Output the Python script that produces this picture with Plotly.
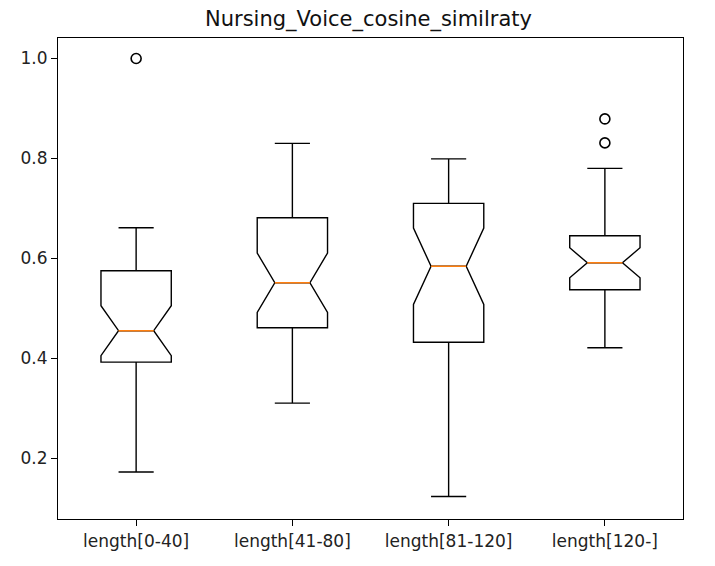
import plotly.graph_objects as go

categories = ["length[0-40]", "length[41-80]", "length[81-120]", "length[120-]"]
q1 = [0.392, 0.461, 0.432, 0.537]
median = [0.455, 0.551, 0.584, 0.591]
q3 = [0.575, 0.681, 0.710, 0.645]
lower_whisker = [0.172, 0.310, 0.123, 0.421]
upper_whisker = [0.661, 0.830, 0.799, 0.780]
notch_low = [0.406, 0.491, 0.510, 0.561]
notch_high = [0.506, 0.610, 0.663, 0.621]
outlier_group = [0, 3, 3]
outlier_values = [1.0, 0.831, 0.879]

positions = [i + 1 for i in range(len(categories))]
box_width = 0.45
notchspan = [(h - l) / 2 for h, l in zip(notch_high, notch_low)]

fig = go.Figure()
fig.add_trace(go.Box(
    x=positions, q1=q1, median=median, q3=q3,
    lowerfence=lower_whisker, upperfence=upper_whisker,
    notched=True, notchspan=notchspan, notchwidth=0.25,
    width=box_width, whiskerwidth=0.5,
    line=dict(color="black", width=1.4),
    fillcolor="rgba(0,0,0,0)", boxpoints=False, showlegend=False,
))

# median lines (orange)
for p, m in zip(positions, median):
    fig.add_trace(go.Scatter(
        x=[p - box_width / 4, p + box_width / 4], y=[m, m], mode="lines",
        line=dict(color="#ff7f0e", width=1.6), showlegend=False, hoverinfo="skip",
    ))

fig.add_trace(go.Scatter(
    x=[positions[g] for g in outlier_group], y=outlier_values, mode="markers",
    marker=dict(symbol="circle-open", size=10, color="black", line=dict(width=1.6, color="black")),
    showlegend=False,
))

axis_common = dict(
    showline=True, linecolor="black", linewidth=1.2, mirror=True,
    ticks="outside", ticklen=6, tickwidth=1.2, tickcolor="black",
    showgrid=False, zeroline=False,
    tickfont=dict(family="DejaVu Sans", size=17, color="#222"),
)

fig.update_layout(
    width=707, height=558,
    margin=dict(l=46, r=32, t=30, b=47),
    plot_bgcolor="white", paper_bgcolor="white",
    title=dict(text="Nursing_Voice_cosine_similraty", x=(46 + (707 - 32 - 46) / 2) / 707,
               xanchor="center", y=1 - 11 / 558, yanchor="middle", yref="container",
               font=dict(family="DejaVu Sans", size=21, color="#111")),
    xaxis=dict(range=[0.5, 4.5], tickvals=positions, ticktext=categories, **axis_common),
    yaxis=dict(range=[0.078, 1.041], tick0=0, dtick=0.2, tickformat=".1f", **axis_common),
    shapes=[dict(type="rect", xref="paper", yref="paper", x0=1.043, x1=1.050,
                 y0=1.062, y1=1.069, fillcolor="#1a1a7a", line=dict(width=0), layer="above")],
)

fig.write_html("out.html")
